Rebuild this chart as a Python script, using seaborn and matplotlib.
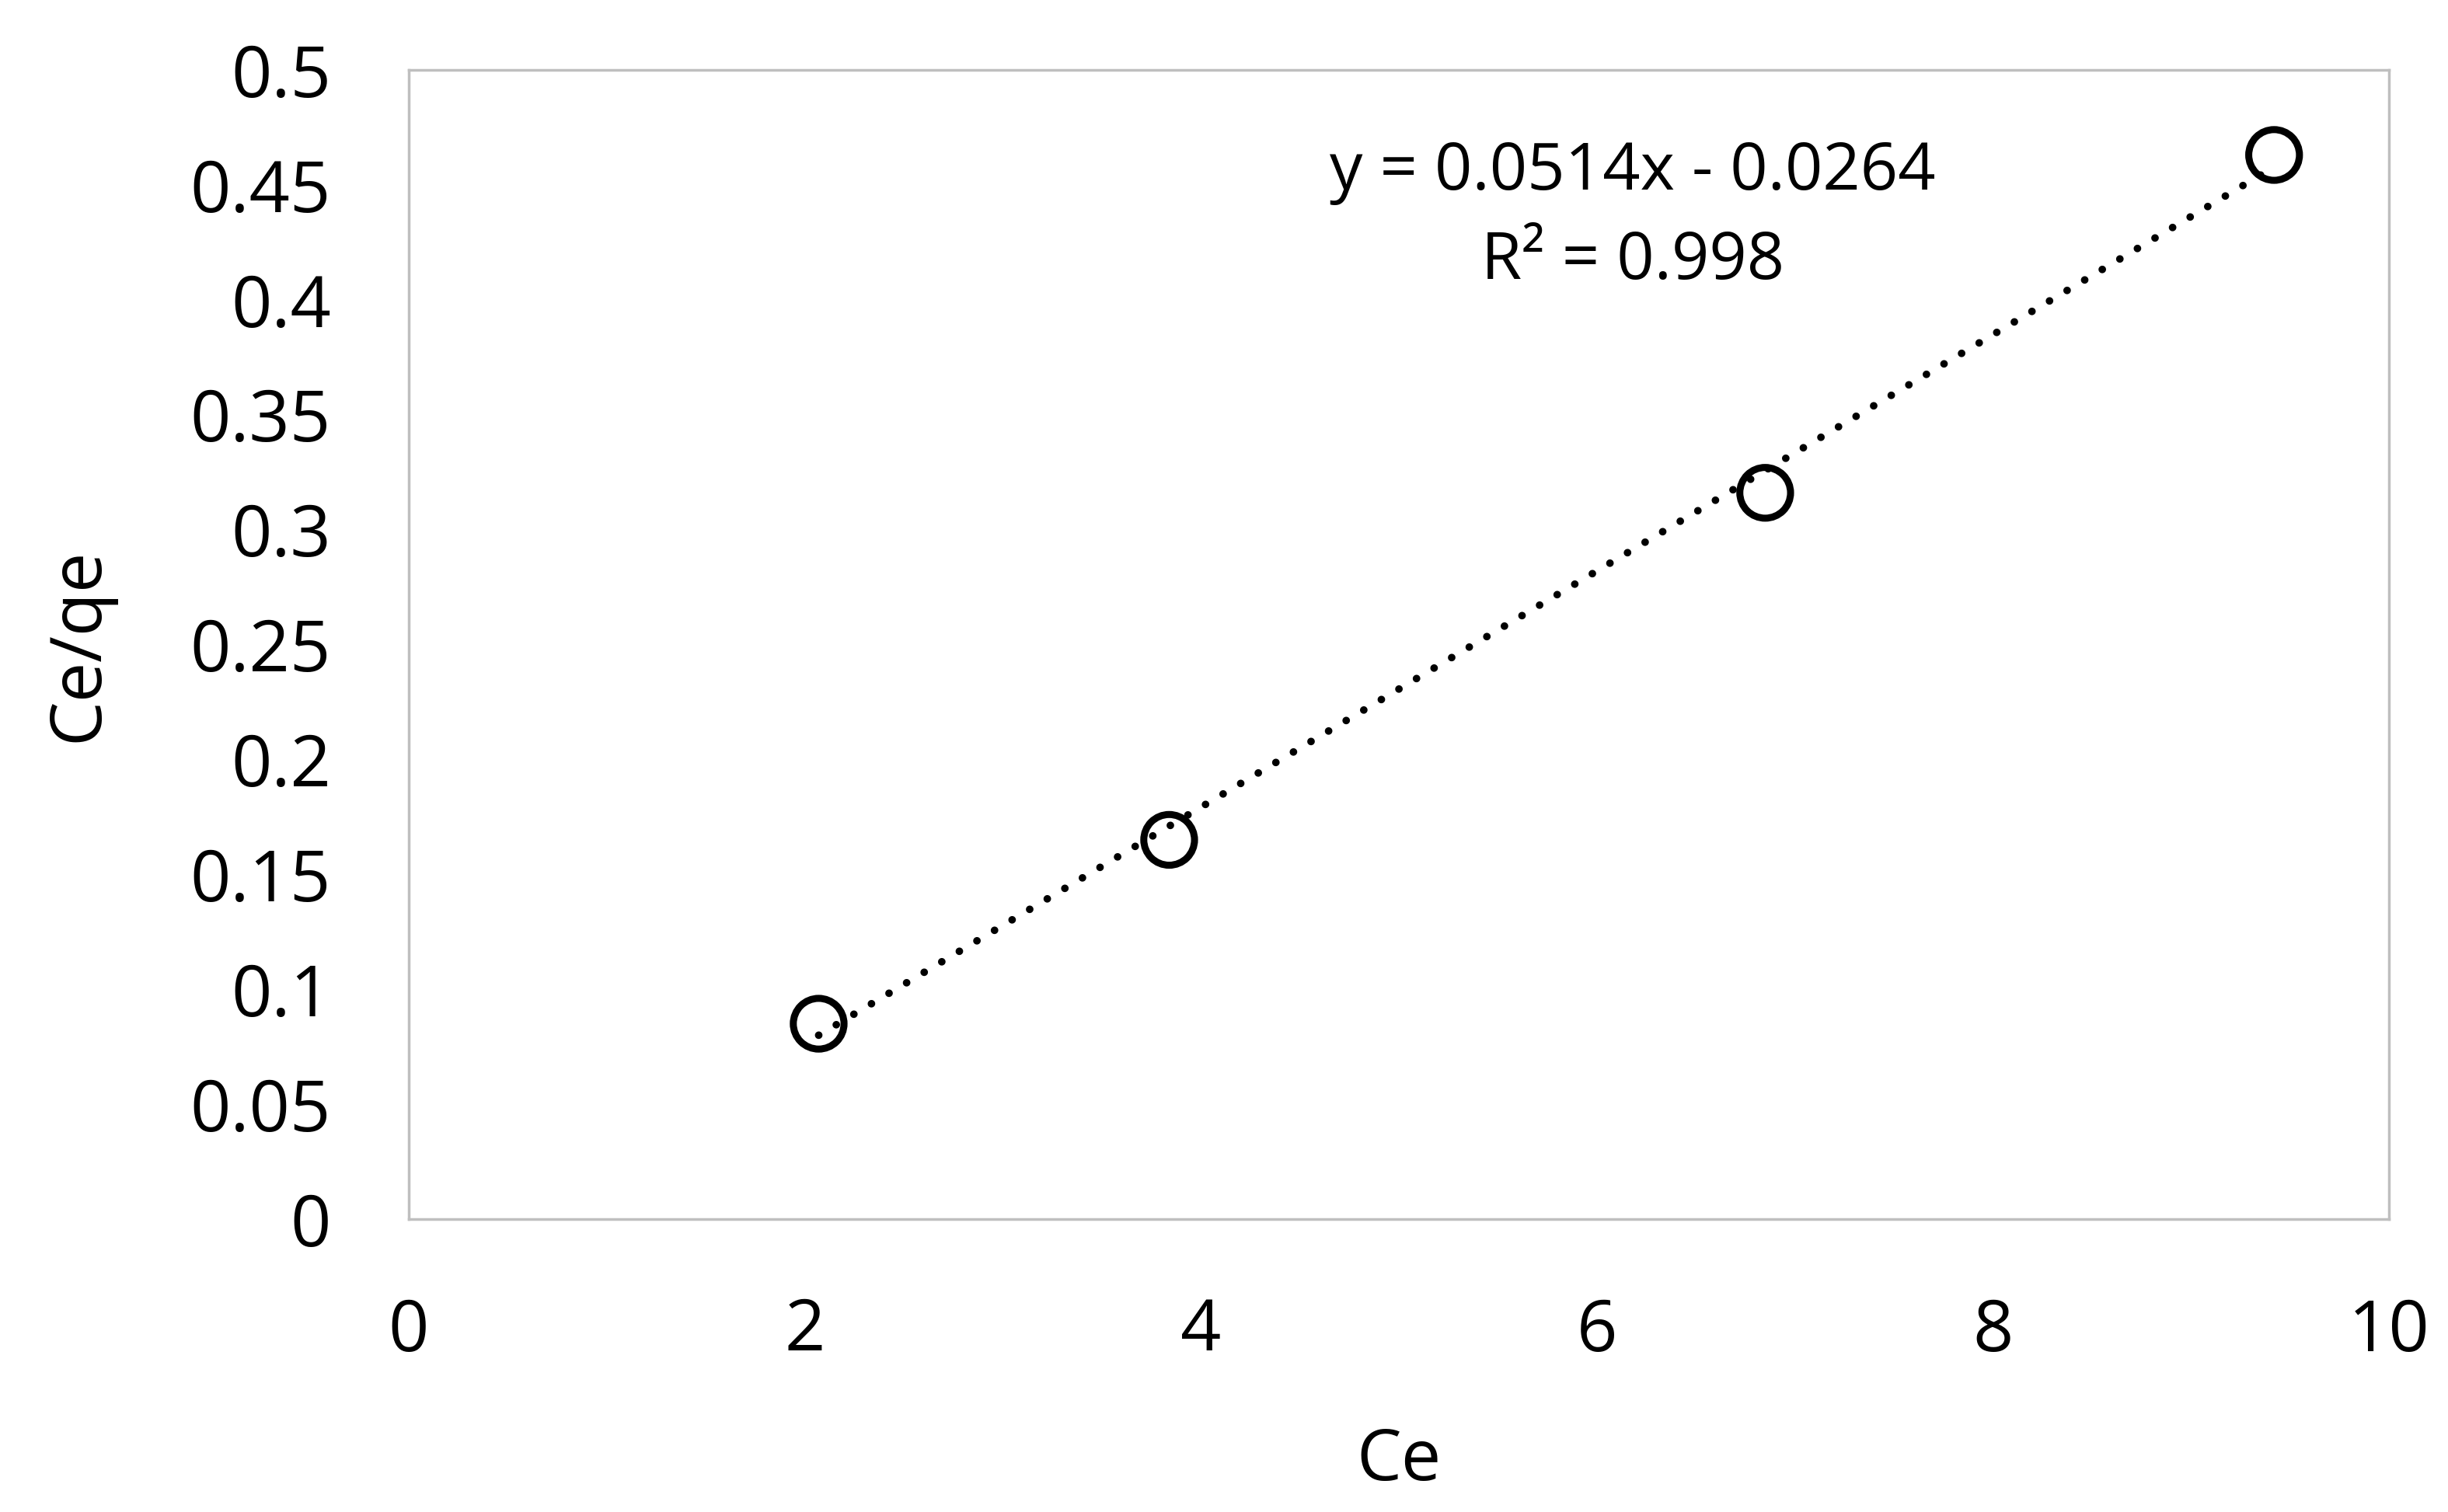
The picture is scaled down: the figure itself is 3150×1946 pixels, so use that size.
import numpy as np
import pandas as pd
import matplotlib
matplotlib.use("Agg")
import matplotlib.pyplot as plt
import seaborn as sns

# Data
ce = [2.07, 3.84, 6.85, 9.42]
ce_qe = [0.085, 0.165, 0.316, 0.463]
slope = 0.0514
intercept = -0.0264
r2 = 0.998
x_ticks = [0, 2, 4, 6, 8, 10]
y_ticks = [0, 0.05, 0.1, 0.15, 0.2, 0.25, 0.3, 0.35, 0.4, 0.45, 0.5]
y_tick_labels = ["0", "0.05", "0.1", "0.15", "0.2", "0.25", "0.3", "0.35", "0.4", "0.45", "0.5"]

sns.set_theme(style="white")
plt.rcParams['font.family'] = ['Open Sans', 'DejaVu Sans']

fig = plt.figure(figsize=(31.5, 19.46), dpi=100)
ax = fig.add_axes([526/3150, 1-1569/1946, (3074-526)/3150, (1569-90)/1946])

df = pd.DataFrame({"Ce": ce, "Ce/qe": ce_qe})
xs = np.array([min(ce), max(ce)])
trend = pd.DataFrame({"x": xs, "y": slope * xs + intercept})

sns.lineplot(data=trend, x="x", y="y", ax=ax, color="black", linewidth=7,
             linestyle=(0, (0.01, 2.7)), dash_capstyle="round", zorder=2)
sns.scatterplot(data=df, x="Ce", y="Ce/qe", ax=ax, marker="o", s=47**2,
                facecolor="none", edgecolor="black", linewidth=6.5, zorder=3)

ax.set_xlim(0, 10)
ax.set_ylim(0, 0.5)
ax.set_xticks(x_ticks)
ax.set_xticklabels([str(t) for t in x_ticks])
ax.set_yticks(y_ticks)
ax.set_yticklabels(y_tick_labels)
ax.tick_params(axis="both", length=0, labelsize=66, colors="black")
ax.tick_params(axis="y", pad=72)
ax.tick_params(axis="x", pad=72)

for s in ax.spines.values():
    s.set_color("#bfbfbf")
    s.set_linewidth(2.5)

ax.set_xlabel("Ce", fontsize=66, labelpad=54, color="black")
ax.set_ylabel("Ce/qe", fontsize=66, labelpad=70, color="black")

ax.text(0.618, 0.911, f"y = {slope}x - {abs(intercept)}",
        transform=ax.transAxes, ha="center", va="center", fontsize=61, color="black")
ax.text(0.618, 0.833, f"R² = {r2}",
        transform=ax.transAxes, ha="center", va="center", fontsize=61, color="black")

fig.savefig("out.png", dpi=100, facecolor="white")
